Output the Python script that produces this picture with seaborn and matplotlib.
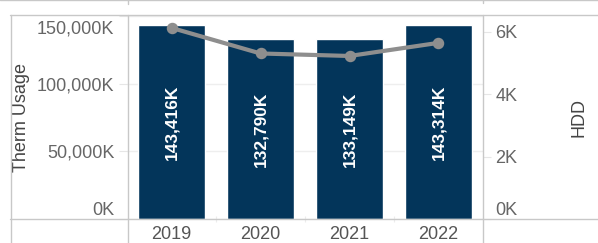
import matplotlib
matplotlib.use("Agg")
import matplotlib.pyplot as plt
import matplotlib.transforms as mtransforms
from matplotlib.lines import Line2D
import seaborn as sns
import pandas as pd

# ---- data ----
years = ["2019", "2020", "2021", "2022"]
therm_usage_k = [143416, 132790, 133149, 143314]   # thousands of therms
hdd = [6120, 5300, 5220, 5640]                     # heating degree days
left_ticks = [0, 50000, 100000, 150000]
right_ticks = [0, 2000, 4000, 6000]

df = pd.DataFrame({"Year": years, "Therm": therm_usage_k, "HDD": hdd})

sns.set_theme(style="white")
plt.rcParams["font.family"] = ["Liberation Sans", "DejaVu Sans"]

W, H, DPI = 598, 243, 100
fig = plt.figure(figsize=(W / DPI, H / DPI), dpi=DPI)

# plot area in pixel coords
x0, x1, ytop, ybot = 127, 483, 16, 219
ax = fig.add_axes([x0 / W, (H - ybot) / H, (x1 - x0) / W, (ybot - ytop) / H])

BAR = "#03355a"
LINE = "#8e8e8e"
TICK = "#666666"
GRID = "#eeeeee"
BORDER = "#c8c8c8"

sns.barplot(data=df, x="Year", y="Therm", color=BAR, width=0.75, ax=ax,
            saturation=1, zorder=2)
ax.set_xlim(-0.5, 3.5)
ax.set_ylim(0, 150000)
for s in ax.spines.values():
    s.set_visible(False)

ax.set_yticks(left_ticks)
ax.set_yticklabels([f"{v:,}K" for v in left_ticks])
ax.yaxis.grid(True, color=GRID, linewidth=1, zorder=0)
ax.set_axisbelow(True)
ax.tick_params(axis="y", left=True, length=6, width=0.8, color="#e6e6e6",
               labelsize=13, labelcolor=TICK, pad=3)
ax.tick_params(axis="x", which="major", bottom=True, length=0,
               labelsize=13, labelcolor="#555555", pad=5)
ax.set_xticks([0.5, 1.5, 2.5], minor=True)
ax.tick_params(axis="x", which="minor", bottom=True, length=5, width=0.8,
               color="#ececec", direction="inout")
ax.set_xlabel("")
ax.set_ylabel("Therm Usage", fontsize=13, color="#444444")
ax.yaxis.set_label_coords((30 - x0) / (x1 - x0), 0.5)

# bar value labels
for cont in ax.containers:
    ax.bar_label(cont, labels=[f"{v:,.0f}K" for v in cont.datavalues],
                 label_type="center", rotation=90, color="white",
                 fontsize=12.5, fontweight="bold")

# secondary axis: HDD line
ax2 = ax.twinx()
sns.pointplot(data=df, x="Year", y="HDD", color=LINE, ax=ax2,
              markers="o", markersize=6, linewidth=3, errorbar=None)
ax2.set_xlim(-0.5, 3.5)
ax2.set_ylim(0, 6500)
for s in ax2.spines.values():
    s.set_visible(False)
ax2.set_yticks(right_ticks)
ax2.set_yticklabels([f"{v // 1000}K" for v in right_ticks])
ax2.tick_params(axis="y", right=True, length=6, width=0.8, color="#e6e6e6",
                labelsize=13, labelcolor=TICK, pad=3)
ax2.set_ylabel("HDD", fontsize=13, color="#444444")
ax2.yaxis.set_label_coords((571 - x0) / (x1 - x0), 0.5)
ax2.grid(False)

# shift edge labels inward like the reference
def shift(label, dy_px):
    off = mtransforms.ScaledTranslation(0, dy_px / DPI, fig.dpi_scale_trans)
    label.set_transform(label.get_transform() + off)

lt = ax.yaxis.get_major_ticks()
shift(lt[0].label1, 11)
shift(lt[-1].label1, -11)
rt = ax2.yaxis.get_major_ticks()
shift(rt[0].label2, 11)

# pane borders
def hline(y, xa, xb):
    fig.add_artist(Line2D([xa / W, xb / W], [(H - y) / H] * 2,
                          transform=fig.transFigure, color=BORDER, lw=1.0))

def vline(x, ya, yb):
    fig.add_artist(Line2D([x / W] * 2, [(H - ya) / H, (H - yb) / H],
                          transform=fig.transFigure, color=BORDER, lw=1.0))

hline(0.5, 0, W)
vline(127.5, 0, 4)
vline(482.5, 0, 3)
hline(15.5, 10, W)
vline(10.5, 15, H)
vline(127.5, 15, H)
vline(482.5, 15, H)
hline(219, 10, W)

fig.savefig("out.png", dpi=DPI, facecolor="white")
